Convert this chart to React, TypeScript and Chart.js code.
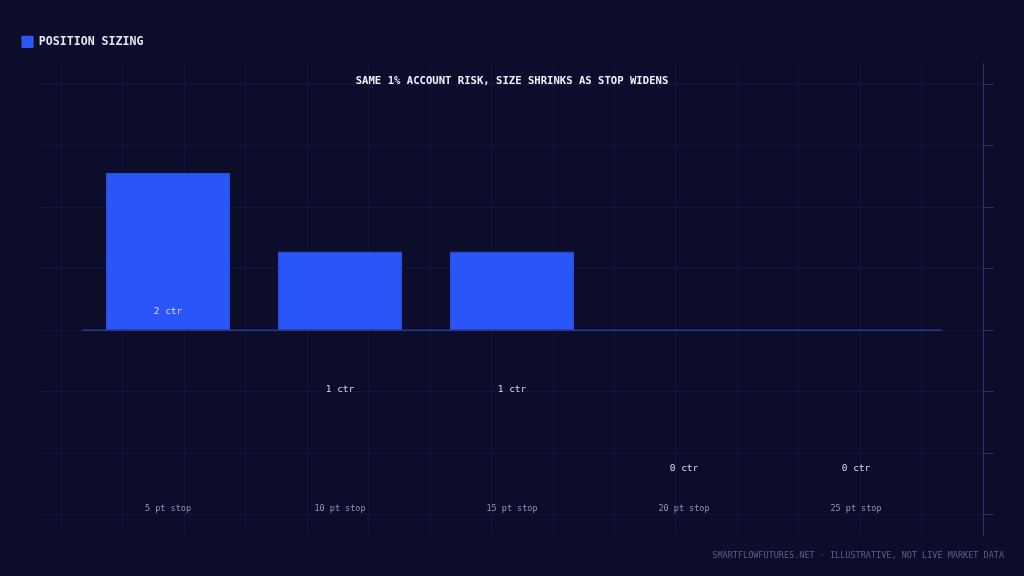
import React, { useEffect, useRef } from "react";
import { Chart, registerables } from "chart.js";

Chart.register(...registerables);

// ---- data ----
const categories = ["5 pt stop", "10 pt stop", "15 pt stop", "20 pt stop", "25 pt stop"];
const contracts = [2, 1, 1, 0, 0];
const contractLabels = ["2 ctr", "1 ctr", "1 ctr", "0 ctr", "0 ctr"];
const seriesName = "POSITION SIZING";
const chartTitle = "SAME 1% ACCOUNT RISK, SIZE SHRINKS AS STOP WIDENS";
const footerText = "SMARTFLOWFUTURES.NET · ILLUSTRATIVE, NOT LIVE MARKET DATA";
const yGridValues = [-2.34, -1.56, -0.78, 0, 0.78, 1.56, 2.34, 3.12];

// ---- scale ranges / styling ----
const X_MIN = -0.7384;
const X_MAX = 4.7384;
const X_GRID_OFFSET = 0.1189;
const X_GRID_STEP = 0.35727;
const Y_MIN = -2.601;
const Y_MAX = 3.384;

const FONT = '"DejaVu Sans Mono", "Liberation Mono", monospace';
const BG = "#0b0d2b";
const GRID = "rgba(70, 82, 175, 0.12)";
const AXIS = "#283070";
const BAR = "#2a55f8";
const BAR_EDGE = "#3961ff";
const BASE = "#2b3690";

const textPlugin = {
  id: "ctrText",
  afterDatasetsDraw(chart: any) {
    const { ctx, chartArea } = chart;
    const meta = chart.getDatasetMeta(0);
    ctx.save();
    ctx.textAlign = "center";
    ctx.textBaseline = "middle";
    meta.data.forEach((el: any, i: number) => {
      const { x, y } = el.getProps(["x", "y"], true);
      ctx.font = `9.5px ${FONT}`;
      ctx.fillStyle = "rgba(228, 231, 248, 0.92)";
      ctx.fillText(contractLabels[i], x, y + 138.5);
      ctx.font = `8.5px ${FONT}`;
      ctx.fillStyle = "#9094bd";
      ctx.fillText(categories[i], x, chartArea.bottom - 26.5);
    });
    ctx.font = `bold 10.6px ${FONT}`;
    ctx.fillStyle = "#eef0fb";
    ctx.fillText(chartTitle, (chartArea.left + chartArea.right) / 2, chartArea.top + 17.6);
    ctx.font = `8.5px ${FONT}`;
    ctx.fillStyle = "#5a5f8e";
    ctx.textAlign = "right";
    ctx.fillText(footerText, chart.width - 20, chart.height - 20.5);
    ctx.restore();
  },
};

export default function App() {
  const canvasRef = useRef<HTMLCanvasElement | null>(null);

  useEffect(() => {
    if (!canvasRef.current) return;
    Chart.defaults.font.family = FONT;
    const chart = new Chart(canvasRef.current, {
      type: "bar",
      data: {
        datasets: [
          {
            type: "bar",
            label: seriesName,
            data: contracts.map((v, i) => ({ x: i, y: v })),
            backgroundColor: BAR,
            borderColor: BAR_EDGE,
            borderWidth: 1,
            xAxisID: "x",
            yAxisID: "y",
          } as any,
          {
            type: "line",
            label: "baseline",
            data: [
              { x: -0.5, y: 0 },
              { x: categories.length - 0.5, y: 0 },
            ],
            borderColor: BASE,
            borderWidth: 1.5,
            pointRadius: 0,
            xAxisID: "x",
            yAxisID: "y",
          } as any,
        ],
      },
      options: {
        responsive: false,
        animation: false,
        events: [],
        layout: { padding: { left: 12, right: 30, top: 26, bottom: 41 } },
        scales: {
          x: {
            type: "linear",
            position: "bottom",
            min: X_MIN,
            max: X_MAX,
            offset: false,
            afterBuildTicks(scale: any) {
              scale.ticks = categories.map((_, i) => ({ value: i }));
            },
            grid: { display: false, drawTicks: false, offset: false },
            border: { display: false },
            ticks: { display: false },
          },
          xt: {
            type: "linear",
            axis: "x",
            position: "top",
            display: true,
            min: X_MIN,
            max: X_MAX,
            offset: false,
            afterBuildTicks(scale: any) {
              const ticks: any[] = [];
              for (let v = X_MIN + X_GRID_OFFSET; v <= X_MAX + 1e-6; v += X_GRID_STEP) ticks.push({ value: v });
              scale.ticks = ticks;
            },
            grid: { display: true, color: GRID, drawTicks: false, offset: false },
            border: { display: false },
            ticks: { display: false },
            afterFit(scale: any) {
              scale.height = 6.2;
            },
          },
          y: {
            type: "linear",
            position: "right",
            min: Y_MIN,
            max: Y_MAX,
            afterBuildTicks(scale: any) {
              scale.ticks = yGridValues.map((v) => ({ value: v }));
            },
            grid: { color: GRID, tickColor: AXIS, tickLength: 11, drawTicks: true },
            border: { display: true, color: AXIS, width: 1 },
            ticks: { display: false },
          },
          yl: {
            type: "linear",
            axis: "y",
            position: "left",
            display: true,
            grid: { display: false, drawTicks: false },
            border: { display: false },
            ticks: { display: false },
            afterFit(scale: any) {
              scale.width = 29;
            },
          },
        } as any,
        plugins: {
          legend: {
            display: true,
            position: "top",
            align: "start",
            labels: {
              boxWidth: 11,
              boxHeight: 11,
              padding: 10,
              color: "#e4e6f4",
              font: { family: FONT, size: 11.6, weight: "bold" },
              filter: (item: any) => item.datasetIndex === 0,
            },
          },
          title: { display: false },
          tooltip: { enabled: false },
        },
      } as any,
      plugins: [textPlugin],
    });
    return () => chart.destroy();
  }, []);

  return (
    <div
      style={{
        position: "fixed",
        left: 0,
        top: 0,
        width: 1024,
        height: 576,
        background: BG,
        overflow: "hidden",
      }}
    >
      <canvas ref={canvasRef} width={1024} height={576} style={{ display: "block" }} />
    </div>
  );
}
